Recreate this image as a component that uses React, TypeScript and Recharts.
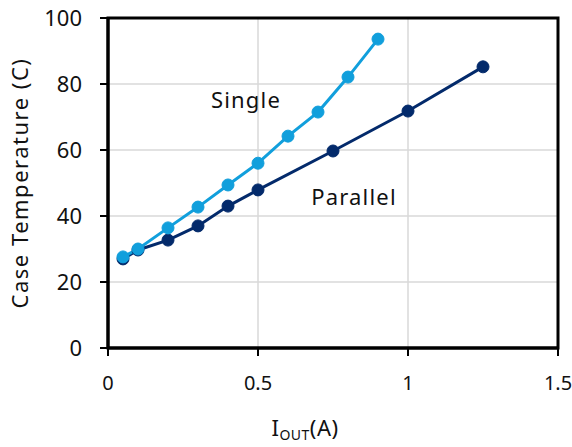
import { CartesianGrid, Line, LineChart, ReferenceArea, ReferenceDot, XAxis, YAxis } from "recharts";

const singleX = [0.05, 0.1, 0.2, 0.3, 0.4, 0.5, 0.6, 0.7, 0.8, 0.9];
const singleTemp = [27.6, 30, 36.4, 42.7, 49.4, 56, 64.2, 71.5, 82.1, 93.6];
const parallelX = [0.05, 0.1, 0.2, 0.3, 0.4, 0.5, 0.75, 1, 1.25];
const parallelTemp = [27, 29.7, 32.7, 37, 43, 47.9, 59.7, 71.8, 85.2];
const xTicks = [0, 0.5, 1, 1.5];
const yTicks = [0, 20, 40, 60, 80, 100];

const singleData = singleX.map((x, i) => ({ x, temp: singleTemp[i] }));
const parallelData = parallelX.map((x, i) => ({ x, temp: parallelTemp[i] }));

const font = "'Noto Sans', sans-serif";
const light = "#119fdc";
const dark = "#032a6b";

function XTitle({ viewBox }: any) {
  const cx = viewBox.x + viewBox.width / 2 - 28;
  return (
    <text x={cx} y={436} textAnchor="middle" fontFamily={font} fontSize={22} letterSpacing={0.5} fill="#111">
      <tspan>I</tspan>
      <tspan fontSize={14} dy={4}>OUT</tspan>
      <tspan dy={-4}>(A)</tspan>
    </text>
  );
}

const labelStyle = { fontFamily: font, fontSize: 22, fill: "#111", letterSpacing: 1.2 };

export default function App() {
  return (
    <div style={{ position: "absolute", left: 0, top: 0, background: "#fff" }}>
      <LineChart width={572} height={447} margin={{ top: 18, right: 14, bottom: 0, left: 0 }}>
        <CartesianGrid stroke="#d9d9d9" strokeWidth={1.5} />
        <XAxis
          type="number"
          dataKey="x"
          domain={[0, 1.5]}
          ticks={xTicks}
          height={99}
          axisLine={{ stroke: "#000", strokeWidth: 3 }}
          tickLine={{ stroke: "#000", strokeWidth: 2 }}
          tickSize={8}
          tick={{ fontFamily: font, fontSize: 20, fill: "#111", dy: 18 }}
          label={<XTitle />}
        />
        <YAxis
          type="number"
          domain={[0, 100]}
          ticks={yTicks}
          width={108}
          axisLine={{ stroke: "#000", strokeWidth: 3 }}
          tickLine={{ stroke: "#000", strokeWidth: 2 }}
          tickSize={8}
          tick={{ fontFamily: font, fontSize: 22, fill: "#111", dx: -16 }}
          label={{
            value: "Case Temperature (C)",
            angle: -90,
            position: "insideLeft",
            dx: 15,
            style: { fontFamily: font, fontSize: 22, fill: "#111", textAnchor: "middle", letterSpacing: 1.5 },
          }}
        />
        <ReferenceArea x1={0} x2={1.5} y1={0} y2={100} fill="none" stroke="#000" strokeWidth={3} fillOpacity={0} />
        <Line
          data={parallelData}
          dataKey="temp"
          stroke={dark}
          strokeWidth={3}
          dot={{ r: 6, fill: dark, stroke: dark, strokeWidth: 1 }}
          isAnimationActive={false}
        />
        <Line
          data={singleData}
          dataKey="temp"
          stroke={light}
          strokeWidth={3}
          dot={{ r: 6, fill: light, stroke: light, strokeWidth: 1 }}
          isAnimationActive={false}
        />
        <ReferenceDot
          x={0.46}
          y={75.2}
          r={0}
          stroke="none"
          label={{ value: "Single", position: "center", style: labelStyle }}
        />
        <ReferenceDot
          x={0.82}
          y={45.8}
          r={0}
          stroke="none"
          label={{ value: "Parallel", position: "center", style: labelStyle }}
        />
      </LineChart>
    </div>
  );
}
